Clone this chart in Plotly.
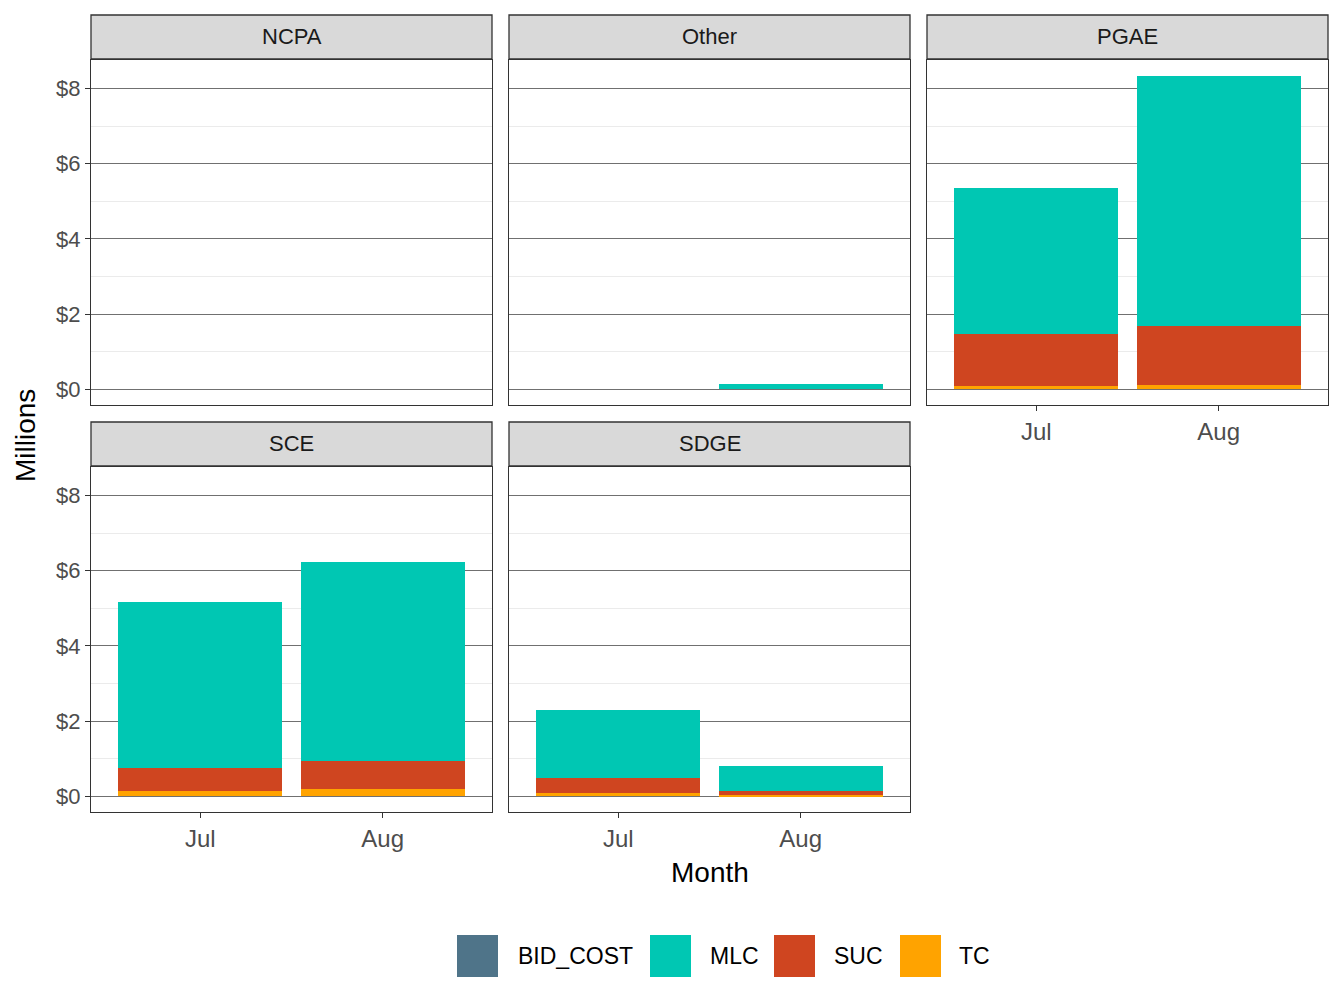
import plotly.graph_objects as go

# ---------------- data ----------------
months = ["Jul", "Aug"]
facets = ["NCPA", "Other", "PGAE", "SCE", "SDGE"]
series = ["BID_COST", "MLC", "SUC", "TC"]
series_colors = ["#4F7489", "#00C7B3", "#CF4520", "#FFA300"]

# values in $ millions, per facet: [Jul, Aug]
bid_cost = {"NCPA": [0.0, 0.0], "Other": [0.0, 0.0], "PGAE": [0.0, 0.0],
            "SCE": [0.0, 0.0], "SDGE": [0.0, 0.0]}
mlc = {"NCPA": [0.0, 0.0], "Other": [0.0, 0.15], "PGAE": [3.89, 6.66],
       "SCE": [4.42, 5.28], "SDGE": [1.81, 0.66]}
suc = {"NCPA": [0.0, 0.0], "Other": [0.0, 0.0], "PGAE": [1.38, 1.57],
       "SCE": [0.61, 0.76], "SDGE": [0.40, 0.13]}
tc = {"NCPA": [0.0, 0.0], "Other": [0.0, 0.0], "PGAE": [0.08, 0.11],
      "SCE": [0.14, 0.19], "SDGE": [0.09, 0.02]}

y_tick_vals = [0, 2, 4, 6, 8]
y_tick_text = ["$0", "$2", "$4", "$6", "$8"]
y_minor_vals = [1, 3, 5, 7]

# ---------------- layout geometry ----------------
# page has an 8px body margin, so the figure is sized to fit the window
OFF = 8
W, H = 1344 - 2 * OFF, 1008 - 2 * OFF
FONT = "Liberation Sans, Arial, Helvetica, sans-serif"


def px_x(p):
    return (p - OFF) / W


def px_y(p):
    return 1 - (p - OFF) / H


col_px = [(91, 492), (509, 910), (927, 1328)]
row_px = [(60, 405), (467, 812)]
strip_px = [(15, 59), (422, 466)]

fig = go.Figure()

stack_order = [("TC", tc), ("SUC", suc), ("MLC", mlc), ("BID_COST", bid_cost)]
color_of = dict(zip(series, series_colors))

layout = dict(
    width=W, height=H,
    margin=dict(l=0, r=0, t=0, b=0),
    paper_bgcolor="white", plot_bgcolor="white",
    barmode="stack",
    showlegend=False,
    font=dict(family=FONT, color="#1A1A1A"),
)
shapes = []
annotations = []

for i, f in enumerate(facets):
    r, c = divmod(i, 3)
    n = i + 1
    xa = "x" if n == 1 else f"x{n}"
    ya = "y" if n == 1 else f"y{n}"
    for name, d in stack_order:
        fig.add_trace(go.Bar(
            x=months, y=d[f], name=name, width=0.9,
            marker=dict(color=color_of[name], line=dict(width=0)),
            xaxis=xa, yaxis=ya, showlegend=False,
        ))

    x0, x1 = col_px[c]
    y0, y1 = row_px[r]
    show_x = f in ("PGAE", "SCE", "SDGE")
    show_y = c == 0

    layout["xaxis" if n == 1 else f"xaxis{n}"] = dict(
        domain=[px_x(x0), px_x(x1)], anchor=ya,
        type="category", categoryorder="array", categoryarray=months,
        range=[-0.6, 1.6], showgrid=False, zeroline=False,
        showline=True, mirror=True, linecolor="#333333", linewidth=1.3,
        ticks="outside" if show_x else "", ticklen=5, tickwidth=1.3,
        tickcolor="#333333", showticklabels=show_x,
        tickfont=dict(family=FONT, size=24, color="#4D4D4D"),
    )
    layout["yaxis" if n == 1 else f"yaxis{n}"] = dict(
        domain=[px_y(y1), px_y(y0)], anchor=xa,
        range=[-0.42, 8.76], zeroline=False,
        tickmode="array", tickvals=y_tick_vals, ticktext=y_tick_text,
        showgrid=True, gridcolor="#707070", gridwidth=1,
        minor=dict(tickmode="array", tickvals=y_minor_vals, showgrid=True,
                   gridcolor="#EBEBEB", gridwidth=1, ticks=""),
        showline=True, mirror=True, linecolor="#333333", linewidth=1.3,
        ticks="outside" if show_y else "", ticklen=5, tickwidth=1.3,
        tickcolor="#333333", showticklabels=show_y,
        tickfont=dict(family=FONT, size=22, color="#4D4D4D"),
    )

    # facet strip
    s0, s1 = strip_px[r]
    shapes.append(dict(
        type="rect", xref="paper", yref="paper",
        x0=px_x(x0), x1=px_x(x1), y0=px_y(s1), y1=px_y(s0),
        fillcolor="#D9D9D9", line=dict(color="#333333", width=1.3),
        layer="above",
    ))
    annotations.append(dict(
        text=f, xref="paper", yref="paper",
        x=px_x((x0 + x1) / 2), y=px_y((s0 + s1) / 2),
        showarrow=False, xanchor="center", yanchor="middle",
        font=dict(family=FONT, size=22, color="#1A1A1A"),
    ))

# axis titles
annotations.append(dict(
    text="Millions", xref="paper", yref="paper",
    x=px_x(26), y=px_y(436), textangle=-90, showarrow=False,
    xanchor="center", yanchor="middle",
    font=dict(family=FONT, size=28, color="black"),
))
annotations.append(dict(
    text="Month", xref="paper", yref="paper",
    x=px_x(710), y=px_y(872), showarrow=False,
    xanchor="center", yanchor="middle",
    font=dict(family=FONT, size=28, color="black"),
))

# legend (manual, ggplot style)
key_x = [457, 650, 774, 900]
text_x = [516, 708, 832, 957]
for name, col, kx, tx in zip(series, series_colors, key_x, text_x):
    shapes.append(dict(
        type="rect", xref="paper", yref="paper",
        x0=px_x(kx), x1=px_x(kx + 41), y0=px_y(977), y1=px_y(935),
        fillcolor=col, line=dict(width=0),
    ))
    annotations.append(dict(
        text=name, xref="paper", yref="paper",
        x=px_x(tx), y=px_y(956), showarrow=False,
        xanchor="left", yanchor="middle",
        font=dict(family=FONT, size=23, color="black"),
    ))

layout["shapes"] = shapes
layout["annotations"] = annotations
fig.update_layout(**layout)

fig.write_html("out.html")
